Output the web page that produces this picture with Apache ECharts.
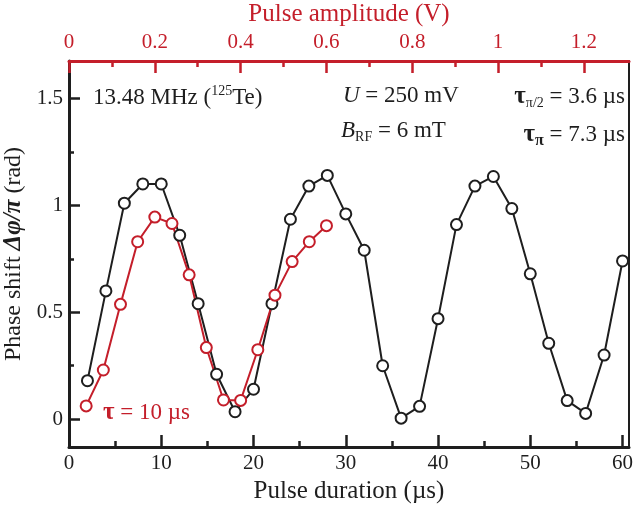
<!DOCTYPE html>
<html lang="en">
<head>
    <meta charset="UTF-8">
    <title>Phase shift vs pulse duration</title>
    <script src="https://cdn.jsdelivr.net/npm/echarts@6.0.0/dist/echarts.min.js"></script>
    <style>
        html, body { margin: 0; padding: 0; background: #fff; }
        #chart { width: 633px; height: 506px; }
    </style>
</head>
<body>
    <div id="chart"></div>
    <script>
        // black: pulse duration (µs) vs phase shift
        var durations = [2, 4, 6, 8, 10, 12, 14, 16, 18, 20, 22, 24, 26, 28, 30,
            32, 34, 36, 38, 40, 42, 44, 46, 48, 50, 52, 54, 56, 58, 60]
        var phaseDur = [0.18, 0.60, 1.01, 1.10, 1.10, 0.86, 0.54, 0.21, 0.035, 0.14, 0.54, 0.935, 1.09, 1.14, 0.96,
            0.79, 0.25, 0.005, 0.06, 0.47, 0.91, 1.09, 1.135, 0.985, 0.68, 0.355, 0.087, 0.027, 0.30, 0.74]
        // red: pulse amplitude (V) vs phase shift, tau = 10 µs
        var amplitudes = [0.04, 0.08, 0.12, 0.16, 0.20, 0.24, 0.28, 0.32, 0.36, 0.40, 0.44, 0.48, 0.52, 0.56, 0.60]
        var phaseAmp = [0.062, 0.23, 0.537, 0.83, 0.945, 0.915, 0.675, 0.335, 0.09, 0.088, 0.325, 0.58, 0.737, 0.83, 0.905]

        var durTicks = [0, 10, 20, 30, 40, 50, 60]
        var durMinor = [5, 15, 25, 35, 45, 55]
        var ampTicks = [0, 0.2, 0.4, 0.6, 0.8, 1, 1.2]
        var ampMinor = [0.1, 0.3, 0.5, 0.7, 0.9, 1.1]
        var phaseTicks = [0, 0.5, 1, 1.5]
        var phaseMinor = [0.25, 0.75, 1.25]

        var RED = '#c41e2a'
        var INK = '#1e1e1e'
        var FONT = 'Liberation Serif'

        function pairs(xs, ys) {
            return xs.map(function (x, i) { return [x, ys[i]] })
        }

        // rich text pieces for the annotations (graphic text uses zrender's fill)
        function richSet(color) {
            return {
                n: { fontFamily: FONT, fontSize: 23, fill: color, lineHeight: 28 },
                i: { fontFamily: FONT, fontSize: 23, fill: color, fontStyle: 'italic', lineHeight: 28 },
                t: { fontFamily: FONT, fontSize: 25, fill: color, fontWeight: 'bold', lineHeight: 28 },
                sup: { fontFamily: FONT, fontSize: 14, fill: color, verticalAlign: 'top', lineHeight: 14 },
                sub: { fontFamily: FONT, fontSize: 14, fill: color, verticalAlign: 'bottom', lineHeight: 6 },
                subb: { fontFamily: FONT, fontSize: 16, fill: color, fontWeight: 'bold', verticalAlign: 'bottom', lineHeight: 6 }
            }
        }

        var labelBase = { fontFamily: FONT, fontSize: 21, color: INK }

        var mCharts = echarts.init(document.getElementById('chart'))
        var option = {
            animation: false,
            backgroundColor: '#fff',
            grid: { left: 69, right: 4, top: 61, bottom: 59, outerBoundsMode: 'none' },
            xAxis: [
                {
                    type: 'value', position: 'bottom', min: 0, max: 60.7,
                    splitLine: { show: false },
                    axisLine: { onZero: false, lineStyle: { color: INK, width: 3 } },
                    axisTick: { inside: true, length: 12, customValues: durTicks, lineStyle: { color: INK, width: 2.5 } },
                    axisLabel: Object.assign({ customValues: durTicks, margin: 6 }, labelBase),
                    name: 'Pulse duration (µs)', nameLocation: 'middle', nameGap: 26,
                    nameTextStyle: { fontFamily: FONT, fontSize: 25, color: INK }
                },
                {
                    type: 'value', position: 'bottom', min: 0, max: 60.7,
                    splitLine: { show: false },
                    axisLine: { show: false, onZero: false },
                    axisTick: { inside: true, length: 6, customValues: durMinor, lineStyle: { color: INK, width: 2.5 } },
                    axisLabel: { show: false }
                },
                {
                    type: 'value', position: 'top', min: 0, max: 1.305,
                    splitLine: { show: false },
                    axisLine: { onZero: false, lineStyle: { color: RED, width: 3 } },
                    axisTick: { inside: true, length: 12, customValues: ampTicks, lineStyle: { color: RED, width: 2.5 } },
                    axisLabel: { customValues: ampTicks, margin: 8, fontFamily: FONT, fontSize: 21, color: RED },
                    name: 'Pulse amplitude (V)', nameLocation: 'middle', nameGap: 33,
                    nameTextStyle: { fontFamily: FONT, fontSize: 25, color: RED }
                },
                {
                    type: 'value', position: 'top', min: 0, max: 1.305,
                    splitLine: { show: false },
                    axisLine: { show: false, onZero: false },
                    axisTick: { inside: true, length: 6, customValues: ampMinor, lineStyle: { color: RED, width: 2.5 } },
                    axisLabel: { show: false }
                }
            ],
            yAxis: [
                {
                    type: 'value', position: 'left', min: -0.13, max: 1.675,
                    splitLine: { show: false },
                    axisLine: { onZero: false, lineStyle: { color: INK, width: 3 } },
                    axisTick: { inside: true, length: 11, customValues: phaseTicks, lineStyle: { color: INK, width: 2.5 } },
                    axisLabel: Object.assign({ customValues: phaseTicks, margin: 6 }, labelBase),
                    name: '{n|Phase shift }{b|Δφ/π}{n| (rad)}', nameLocation: 'middle', nameGap: 35,
                    nameTextStyle: {
                        rich: {
                            n: { fontFamily: FONT, fontSize: 24, color: INK },
                            b: { fontFamily: FONT, fontSize: 25, color: INK, fontStyle: 'italic', fontWeight: 'bold' }
                        }
                    }
                },
                {
                    type: 'value', position: 'left', min: -0.13, max: 1.675,
                    splitLine: { show: false },
                    axisLine: { show: false, onZero: false },
                    axisTick: { inside: true, length: 5, customValues: phaseMinor, lineStyle: { color: INK, width: 2.5 } },
                    axisLabel: { show: false }
                },
                {
                    type: 'value', position: 'right', min: -0.13, max: 1.675,
                    splitLine: { show: false },
                    axisLine: { show: true, onZero: false, lineStyle: { color: INK, width: 2 } },
                    axisTick: { show: false },
                    axisLabel: { show: false }
                }
            ],
            series: [
                {
                    type: 'line', xAxisIndex: 0, yAxisIndex: 0,
                    data: pairs(durations, phaseDur),
                    symbol: 'circle', symbolSize: 11, showAllSymbol: true,
                    lineStyle: { color: INK, width: 2 },
                    itemStyle: { color: '#fff', borderColor: INK, borderWidth: 2 }
                },
                {
                    type: 'line', xAxisIndex: 2, yAxisIndex: 0,
                    data: pairs(amplitudes, phaseAmp),
                    symbol: 'circle', symbolSize: 11, showAllSymbol: true,
                    lineStyle: { color: RED, width: 2 },
                    itemStyle: { color: '#fff', borderColor: RED, borderWidth: 2 }
                }
            ],
            graphic: [
                {
                    type: 'text', left: 93, top: 84,
                    style: { text: '{n|13.48 MHz (}{sup|125}{n|Te)}', rich: richSet(INK) }
                },
                {
                    type: 'text', left: 343, top: 84,
                    style: { text: '{i|U}{n| = 250 mV}', rich: richSet(INK) }
                },
                {
                    type: 'text', left: 341, top: 119,
                    style: { text: '{i|B}{sub|RF}{n| = 6 mT}', rich: richSet(INK) }
                },
                {
                    type: 'text', right: 8, top: 84,
                    style: { text: '{t|τ}{sub|π/2}{n| = 3.6 µs}', rich: richSet(INK) }
                },
                {
                    type: 'text', right: 8, top: 122,
                    style: { text: '{t|τ}{subb|π}{n| = 7.3 µs}', rich: richSet(INK) }
                },
                {
                    type: 'text', left: 103, top: 400,
                    style: { text: '{t|τ}{n| = 10 µs}', fill: RED, rich: richSet(RED) }
                }
            ]
        }
        mCharts.setOption(option)
    </script>
</body>
</html>
